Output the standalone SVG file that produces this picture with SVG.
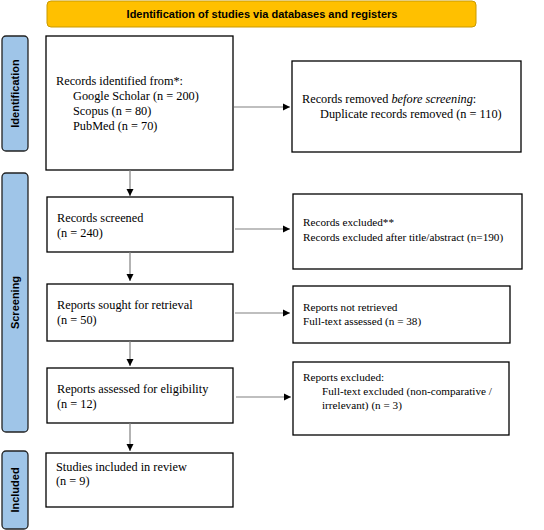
<svg xmlns="http://www.w3.org/2000/svg" width="544" height="530" viewBox="0 0 544 530">
<defs>
<marker id="ah" markerWidth="8" markerHeight="8" refX="7" refY="4" orient="auto" markerUnits="userSpaceOnUse">
<path d="M0,0.5 L7,4 L0,7.5 Z" fill="#000"/>
</marker>
<style>
.box{fill:#fff;stroke:#000;stroke-width:1.3}
.side{fill:#9fc5e8;stroke:#222;stroke-width:1.3}
.banner{fill:#ffc000;stroke:#c99a00;stroke-width:1}
.hdr{font-family:"Liberation Sans",Arial,sans-serif;font-weight:bold;font-size:11px;fill:#000}
.t{font-family:"Liberation Serif","Times New Roman",serif;font-size:12.3px;fill:#000}
.ts{font-family:"Liberation Serif","Times New Roman",serif;font-size:11.2px;fill:#000}
.c{stroke:#808080;stroke-width:1.2;fill:none}
</style>
</defs>
<rect width="544" height="530" fill="#fff"/>
<g id="banner">
<rect class="banner" x="47" y="1" width="429" height="26" rx="4"/>
<text class="hdr" x="262" y="18" text-anchor="middle">Identification of studies via databases and registers</text>
</g>
<g id="label-identification">
<rect class="side" x="2" y="36" width="26" height="115" rx="4"/>
<text class="hdr" transform="translate(19,93.5) rotate(-90)" text-anchor="middle">Identification</text>
</g>
<g id="label-screening">
<rect class="side" x="2" y="173" width="26" height="259" rx="4"/>
<text class="hdr" transform="translate(19,302.5) rotate(-90)" text-anchor="middle">Screening</text>
</g>
<g id="label-included">
<rect class="side" x="2" y="451" width="26" height="78" rx="4"/>
<text class="hdr" transform="translate(19,490) rotate(-90)" text-anchor="middle">Included</text>
</g>
<g id="records-identified">
<rect class="box" x="46" y="36" width="187" height="134"/>
<text class="t" x="56" y="85">Records identified from*:</text>
<text class="t" x="73" y="100">Google Scholar (n = 200)</text>
<text class="t" x="73" y="115">Scopus (n = 80)</text>
<text class="t" x="73" y="130">PubMed (n = 70)</text>
</g>
<g id="records-removed">
<rect class="box" x="292" y="61" width="229" height="91"/>
<text class="t" x="302" y="103">Records removed <tspan font-style="italic">before screening</tspan>:</text>
<text class="t" x="320" y="118">Duplicate records removed (n = 110)</text>
</g>
<g id="records-screened">
<rect class="box" x="47" y="197" width="186" height="55"/>
<text class="t" x="57" y="222">Records screened</text>
<text class="t" x="57" y="237">(n = 240)</text>
</g>
<g id="records-excluded">
<rect class="box" x="293" y="194" width="229" height="75"/>
<text class="ts" x="303" y="226">Records excluded**</text>
<text class="ts" x="303" y="241">Records excluded after title/abstract (n=190)</text>
</g>
<g id="reports-sought">
<rect class="box" x="47" y="284" width="186" height="57"/>
<text class="t" x="57" y="309">Reports sought for retrieval</text>
<text class="t" x="57" y="324">(n = 50)</text>
</g>
<g id="reports-not-retrieved">
<rect class="box" x="293" y="286" width="217" height="57"/>
<text class="ts" x="303" y="311">Reports not retrieved</text>
<text class="ts" x="303" y="325">Full-text assessed (n = 38)</text>
</g>
<g id="reports-assessed">
<rect class="box" x="47" y="368" width="186" height="55"/>
<text class="t" x="57" y="393">Reports assessed for eligibility</text>
<text class="t" x="57" y="408">(n = 12)</text>
</g>
<g id="reports-excluded">
<rect class="box" x="293" y="362" width="216" height="73"/>
<text class="ts" x="303" y="381">Reports excluded:</text>
<text class="ts" x="322" y="395">Full-text excluded (non-comparative /</text>
<text class="ts" x="322" y="409">irrelevant) (n = 3)</text>
</g>
<g id="studies-included">
<rect class="box" x="46" y="453" width="187" height="54"/>
<text class="t" x="56" y="471">Studies included in review</text>
<text class="t" x="56" y="485">(n = 9)</text>
</g>
<g id="connectors">
<line class="c" x1="234" y1="107" x2="290" y2="107" marker-end="url(#ah)"/>
<line class="c" x1="130" y1="170" x2="130" y2="196" marker-end="url(#ah)"/>
<line class="c" x1="235" y1="229" x2="290" y2="229" marker-end="url(#ah)"/>
<line class="c" x1="130" y1="252" x2="130" y2="281" marker-end="url(#ah)"/>
<line class="c" x1="235" y1="313" x2="290" y2="313" marker-end="url(#ah)"/>
<line class="c" x1="130" y1="341" x2="130" y2="366" marker-end="url(#ah)"/>
<line class="c" x1="236" y1="397" x2="291" y2="397" marker-end="url(#ah)"/>
<line class="c" x1="130" y1="423" x2="130" y2="451" marker-end="url(#ah)"/>
</g>
</svg>
